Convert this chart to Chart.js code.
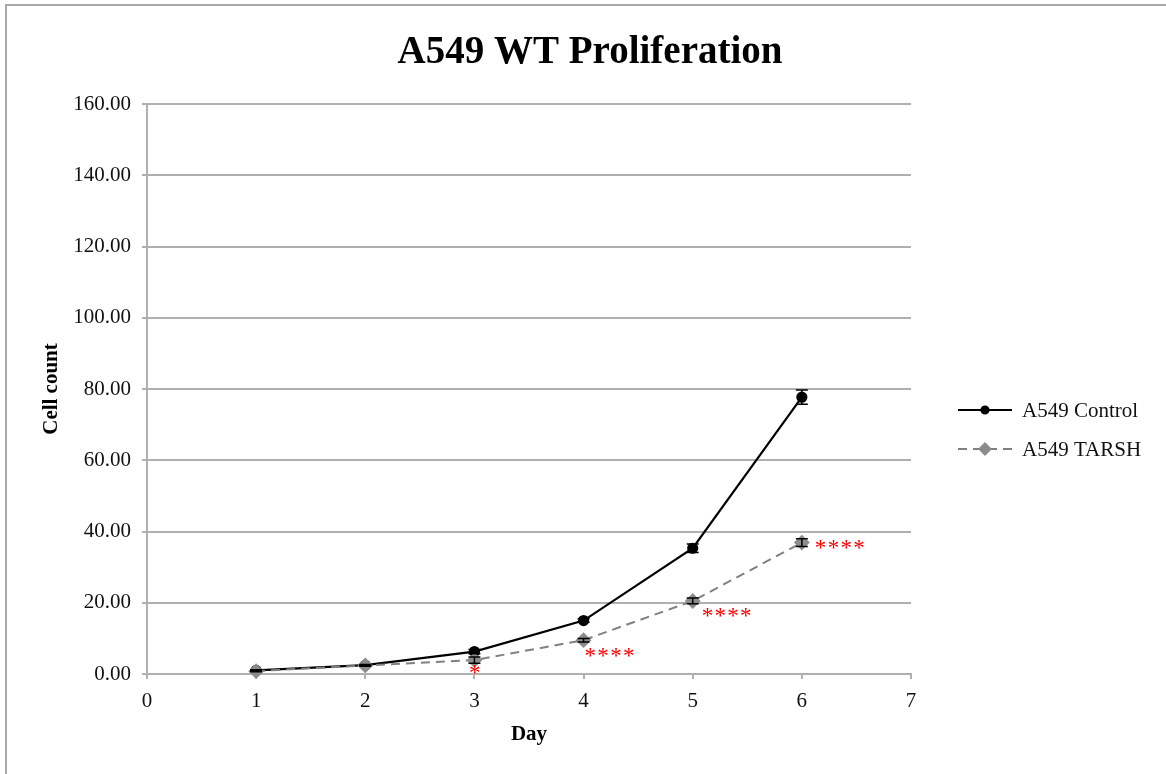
<!DOCTYPE html>
<html>
<head>
<meta charset="utf-8">
<script src="https://cdn.jsdelivr.net/npm/chart.js@4/dist/chart.umd.min.js"></script>
<style>
html, body { margin: 0; padding: 0; background: #fff; }
#wrap { width: 1166px; height: 774px; }
</style>
</head>
<body>
<div id="wrap"><canvas id="prolif" width="1166" height="774"></canvas></div>
<script>
const chartTitle = 'A549 WT Proliferation'
const days = [1, 2, 3, 4, 5, 6]
const controlLabel = 'A549 Control'
const controlCounts = [1.0, 2.5, 6.3, 15.0, 35.3, 77.7]
const controlErr = [0.2, 0.2, 0.6, 0.5, 1.2, 2.0]
const tarshLabel = 'A549 TARSH'
const tarshCounts = [0.8, 2.4, 3.9, 9.5, 20.5, 36.9]
const tarshErr = [0.2, 0.2, 0.9, 0.5, 0.8, 1.1]
const tarshStars = ['', '', '*', '****', '****', '****']
const yMin = 0, yMax = 160, yStep = 20
const xMin = 0, xMax = 7, xStep = 1

const serif = "'Liberation Serif', 'Times New Roman', serif"
const gridGray = '#b0b0b0'

function toPoints(xs, ys) {
    return xs.map((x, i) => ({ x: x, y: ys[i] }))
}

const frame = {
    id: 'frame',
    beforeDraw(chart) {
        const ctx = chart.ctx
        ctx.save()
        ctx.fillStyle = '#fff'
        ctx.fillRect(0, 0, chart.width, chart.height)
        ctx.strokeStyle = '#a8a8a8'
        ctx.lineWidth = 2
        ctx.beginPath()
        ctx.moveTo(chart.width, 5)
        ctx.lineTo(6, 5)
        ctx.lineTo(6, chart.height)
        ctx.stroke()
        ctx.restore()
    },
    afterDraw(chart) {
        const ctx = chart.ctx
        ctx.save()
        ctx.fillStyle = '#000'
        ctx.font = 'bold 39px ' + serif
        ctx.textAlign = 'center'
        ctx.textBaseline = 'middle'
        ctx.fillText(chartTitle, 590, 53)
        ctx.restore()
    },
}

const errorBars = {
    id: 'errorBars',
    afterDatasetsDraw(chart) {
        const ctx = chart.ctx,
            y = chart.scales.y
        const errs = [controlErr, tarshErr]
        ctx.save()
        chart.data.datasets.forEach((ds, d) => {
            const meta = chart.getDatasetMeta(d)
            ctx.strokeStyle = '#000'
            ctx.lineWidth = 1.5
            meta.data.forEach((pt, i) => {
                const v = ds.data[i].y,
                    e = errs[d][i],
                    top = y.getPixelForValue(v + e),
                    bot = y.getPixelForValue(v - e)
                ctx.beginPath()
                ctx.moveTo(pt.x, top)
                ctx.lineTo(pt.x, bot)
                ctx.moveTo(pt.x - 6, top)
                ctx.lineTo(pt.x + 6, top)
                ctx.moveTo(pt.x - 6, bot)
                ctx.lineTo(pt.x + 6, bot)
                ctx.stroke()
            })
        })
        ctx.restore()
    },
}

const stars = {
    id: 'stars',
    afterDatasetsDraw(chart) {
        const ctx = chart.ctx,
            meta = chart.getDatasetMeta(1)
        // where each mark sits relative to its point
        const offsets = [[0, 0], [0, 0], [0, 9], [1, 12], [9, 11], [13, 1]]
        ctx.save()
        ctx.fillStyle = '#ff0000'
        ctx.font = '23px ' + serif
        ctx.textBaseline = 'alphabetic'
        ctx.textAlign = 'left'
        tarshStars.forEach((s, i) => {
            if (!s) return
            const pt = meta.data[i],
                step = 12.8
            let x = pt.x + offsets[i][0]
            if (s.length == 1) x -= 5.5
            for (let k = 0; k < s.length; k++) {
                ctx.fillText('*', x + k * step, pt.y + offsets[i][1] + 11)
            }
        })
        ctx.restore()
    },
}

const sideLegend = {
    id: 'sideLegend',
    afterDraw(chart) {
        const ctx = chart.ctx
        ctx.save()
        chart.data.datasets.forEach((ds, d) => {
            const ly = 410 + d * 39
            ctx.strokeStyle = ds.borderColor
            ctx.lineWidth = ds.borderWidth
            ctx.setLineDash(ds.borderDash || [])
            ctx.beginPath()
            ctx.moveTo(958, ly)
            ctx.lineTo(1012, ly)
            ctx.stroke()
            ctx.setLineDash([])
            ctx.fillStyle = ds.pointBackgroundColor
            ctx.strokeStyle = ds.pointBorderColor
            Chart.helpers.drawPoint(
                ctx,
                {
                    pointStyle: ds.pointStyle,
                    radius: ds.pointStyle == 'circle' ? 3.5 : 5.5,
                    borderWidth: 1,
                },
                985,
                ly
            )
            ctx.fillStyle = '#111'
            ctx.font = '21px ' + serif
            ctx.textAlign = 'left'
            ctx.textBaseline = 'middle'
            ctx.fillText(ds.label, 1022, ly + 1)
        })
        ctx.restore()
    },
}

function drawChart() {
    const canvas = document.getElementById('prolif')
    const old = Chart.getChart(canvas)
    if (old != undefined) old.destroy()
    return new Chart(canvas, {
        type: 'line',
        data: {
            datasets: [
                {
                    label: controlLabel,
                    data: toPoints(days, controlCounts),
                    borderColor: '#000',
                    backgroundColor: '#000',
                    borderWidth: 2.2,
                    pointStyle: 'circle',
                    pointRadius: 4.5,
                    pointBackgroundColor: '#000',
                    pointBorderColor: '#000',
                    tension: 0,
                    clip: false,
                    order: 2,
                },
                {
                    label: tarshLabel,
                    data: toPoints(days, tarshCounts),
                    borderColor: '#808080',
                    backgroundColor: '#8c8c8c',
                    borderWidth: 2,
                    borderDash: [9, 6],
                    pointStyle: 'rectRot',
                    pointRadius: 6.5,
                    pointBackgroundColor: '#8c8c8c',
                    pointBorderColor: '#8c8c8c',
                    tension: 0,
                    clip: false,
                    order: 1,
                },
            ],
        },
        options: {
            responsive: false,
            animation: false,
            devicePixelRatio: 1,
            layout: { padding: { left: 14, top: 104, right: 255, bottom: 0 } },
            plugins: {
                legend: { display: false },
                title: { display: false },
                tooltip: { enabled: false },
            },
            scales: {
                x: {
                    type: 'linear',
                    min: xMin,
                    max: xMax,
                    afterFit(scale) {
                        scale.height = 100
                    },
                    ticks: {
                        stepSize: xStep,
                        padding: 10,
                        color: '#111',
                        font: { family: serif, size: 21 },
                    },
                    grid: {
                        drawOnChartArea: false,
                        drawTicks: true,
                        tickLength: 5,
                        color: gridGray,
                        lineWidth: 2,
                    },
                    border: { display: true, color: gridGray, width: 2 },
                    title: {
                        display: true,
                        text: 'Day',
                        color: '#000',
                        font: { family: serif, size: 21, weight: 'bold' },
                        padding: { top: 0, bottom: 27 },
                    },
                },
                y: {
                    min: yMin,
                    max: yMax,
                    afterFit(scale) {
                        scale.width = 133
                    },
                    ticks: {
                        stepSize: yStep,
                        padding: 11,
                        color: '#111',
                        font: { family: serif, size: 21 },
                        callback: (v) => Number(v).toFixed(2),
                    },
                    grid: {
                        color: gridGray,
                        lineWidth: 2,
                        tickLength: 5,
                    },
                    border: { display: true, color: gridGray, width: 2 },
                    title: {
                        display: true,
                        text: 'Cell count',
                        color: '#000',
                        font: { family: serif, size: 21, weight: 'bold' },
                        padding: { top: 25, bottom: 0 },
                    },
                },
            },
        },
        plugins: [frame, errorBars, stars, sideLegend],
    })
}

drawChart()
</script>
</body>
</html>
